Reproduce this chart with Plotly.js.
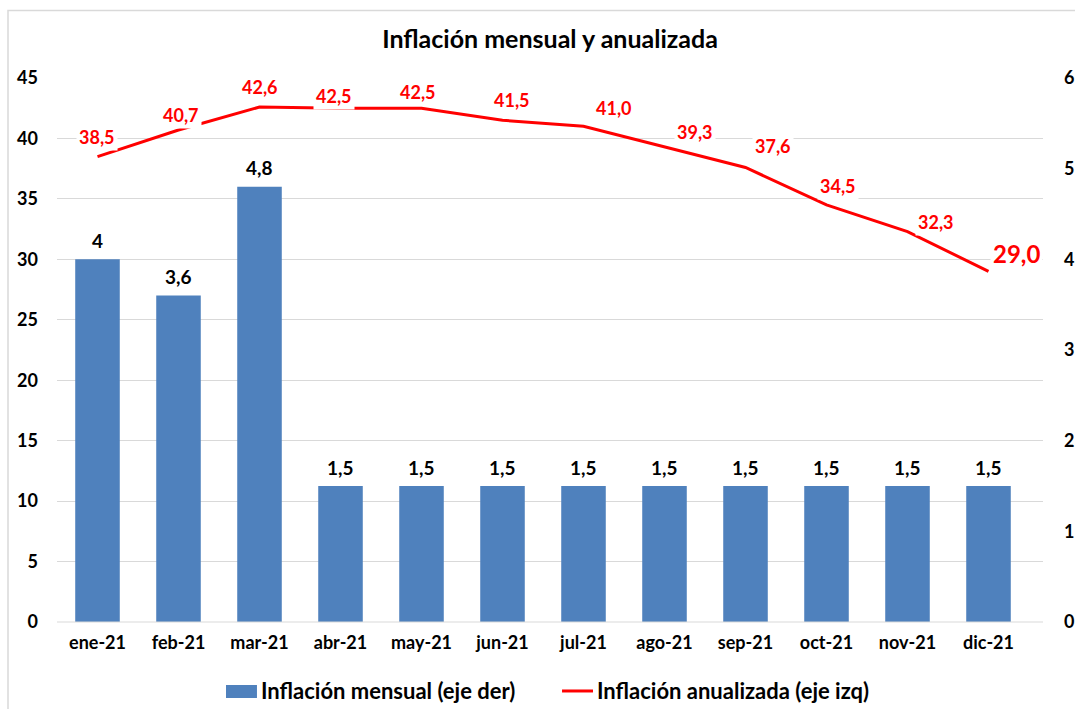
<!DOCTYPE html>
<html>
<head>
<meta charset="utf-8">
<script src="https://cdn.plot.ly/plotly-3.0.1.min.js"></script>
<style>html,body{margin:0;padding:0;background:#fff;}#chart{width:1075px;height:709px;}</style>
</head>
<body>
<div id="chart"></div>
<script>
var months = ["ene-21","feb-21","mar-21","abr-21","may-21","jun-21","jul-21","ago-21","sep-21","oct-21","nov-21","dic-21"];
var monthly = [4, 3.6, 4.8, 1.5, 1.5, 1.5, 1.5, 1.5, 1.5, 1.5, 1.5, 1.5];
var annualized = [38.5, 40.7, 42.6, 42.5, 42.5, 41.5, 41.0, 39.3, 37.6, 34.5, 32.3, 29.0];
var leftTicks = [0,5,10,15,20,25,30,35,40,45];
var rightTicks = [0,1,2,3,4,5,6];
var seriesNames = ["Inflación mensual (eje der)", "Inflación anualizada (eje izq)"];

// label placement offsets (pixels) for the line labels
var lblDx = [-1, 2, 0, -7, -4, 9, 30, 30, 27, 11, 28, 28];
var lblDy = [20, 15, 20, 12, 16, 20, 18, 15, 21, 19, 10, 18];

var FONT = "Lato, 'Open Sans', Arial, sans-serif";
function fmtComma(v, dec){ return v.toFixed(dec).replace('.', ','); }
function b(s){ return '<b>' + s + '</b>'; }

var bars = {
  type: 'bar', x: months, y: monthly, yaxis: 'y2',
  name: seriesNames[0],
  marker: {color: '#4f81bd'}, hoverinfo: 'skip'
};
var line = {
  type: 'scatter', mode: 'lines', x: months, y: annualized, yaxis: 'y',
  name: seriesNames[1],
  line: {color: '#ff0000', width: 3}, hoverinfo: 'skip'
};

var ann = [];
months.forEach(function(m, i){
  var v = monthly[i];
  ann.push({
    x: m, y: v, xref: 'x', yref: 'y2', showarrow: false,
    text: b(Number.isInteger(v) ? String(v) : fmtComma(v,1)),
    font: {family: FONT, size: 19, color: '#000'},
    yanchor: 'middle', yshift: 19
  });
  var last = (i === months.length - 1);
  ann.push({
    x: m, y: annualized[i], xref: 'x', yref: 'y', showarrow: false,
    text: b(fmtComma(annualized[i],1)),
    font: {family: FONT, size: last ? 24 : 18, color: '#ff0000'},
    bgcolor: '#ffffff', borderpad: 2,
    yanchor: 'middle', xshift: lblDx[i], yshift: lblDy[i]
  });
});

// custom legend (text)
ann.push({xref: 'paper', yref: 'paper', x: 0.2049, y: -0.1268, xanchor: 'left', yanchor: 'middle', showarrow: false,
          text: b(seriesNames[0]), font: {family: FONT, size: 22, color: '#000'}});
ann.push({xref: 'paper', yref: 'paper', x: 0.5456, y: -0.1268, xanchor: 'left', yanchor: 'middle', showarrow: false,
          text: b(seriesNames[1]), font: {family: FONT, size: 22, color: '#000'}});

var layout = {
  width: 1075, height: 709,
  margin: {l: 57, r: 32, t: 78, b: 87},
  paper_bgcolor: '#ffffff', plot_bgcolor: '#ffffff',
  font: {family: FONT, color: '#000'},
  title: {text: b('Inflación mensual y anualizada'), font: {family: FONT, size: 25, color: '#000'},
          x: 0.5, xanchor: 'center', y: 0.945, yanchor: 'middle', xref: 'paper'},
  bargap: 0.45,
  showlegend: false,
  xaxis: {type: 'category', showgrid: false, showline: false, ticks: '', zeroline: false,
          tickvals: months, ticktext: months.map(b),
          tickfont: {family: FONT, size: 18, color: '#000'}, ticklabelstandoff: 8},
  yaxis: {range: [0, 45], tickvals: leftTicks, ticktext: leftTicks.map(function(t){return b(String(t));}),
          showgrid: true, gridcolor: '#d9d9d9', gridwidth: 1,
          zeroline: false, showline: false, ticks: '',
          tickfont: {family: FONT, size: 18, color: '#000'}, ticklabelstandoff: 18},
  yaxis2: {range: [0, 6], tickvals: rightTicks, ticktext: rightTicks.map(function(t){return b(String(t));}),
           overlaying: 'y', side: 'right', showgrid: false,
           zeroline: false, showline: false, ticks: '',
           tickfont: {family: FONT, size: 18, color: '#000'}, ticklabelstandoff: 20},
  annotations: ann,
  shapes: [
    {type: 'line', xref: 'paper', yref: 'paper', x0: 0, x1: 1, y0: 0, y1: 0, line: {color: '#d9d9d9', width: 1}},
    {type: 'rect', xref: 'paper', yref: 'paper', x0: -0.0497, x1: 1.1, y0: 1.124, y1: -0.3, line: {color: '#d9d9d9', width: 1.5}, fillcolor: 'rgba(0,0,0,0)', layer: 'below'},
    {type: 'rect', xref: 'paper', yref: 'paper', x0: 0.1714, x1: 0.2028, y0: -0.1158, y1: -0.1397, line: {width: 0}, fillcolor: '#4f81bd'},
    {type: 'line', xref: 'paper', yref: 'paper', x0: 0.5122, x1: 0.5436, y0: -0.1268, y1: -0.1268, line: {color: '#ff0000', width: 3}}
  ]
};

Plotly.newPlot('chart', [bars, line], layout, {displayModeBar: false, staticPlot: true});
</script>
</body>
</html>
